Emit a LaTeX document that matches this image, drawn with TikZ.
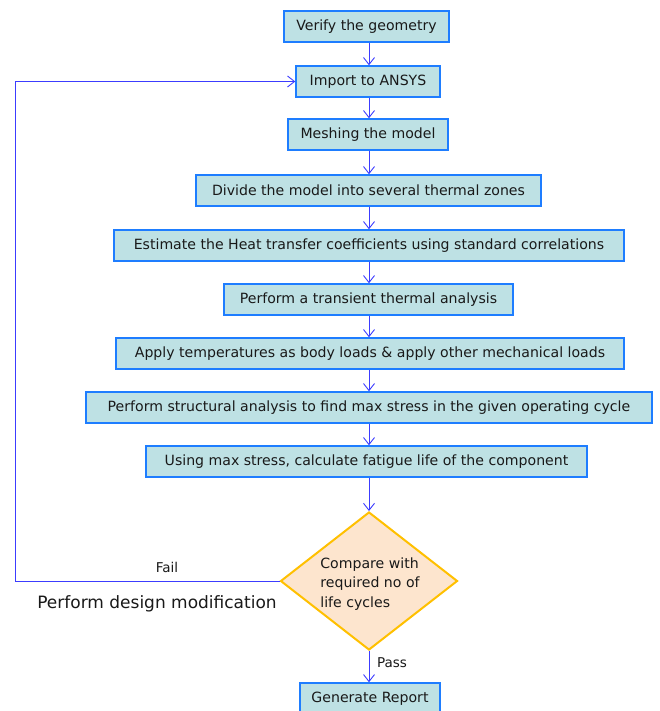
\documentclass[tikz,border=0pt]{standalone}
\usepackage{fontspec}
\setmainfont{DejaVu Sans}
\usetikzlibrary{shapes.geometric,arrows.meta}
\definecolor{boxfill}{RGB}{190,225,228}
\definecolor{boxline}{RGB}{30,125,255}
\definecolor{linecol}{RGB}{60,60,255}
\definecolor{diafill}{RGB}{253,229,206}
\definecolor{dialine}{RGB}{255,192,0}
\definecolor{txt}{RGB}{25,25,25}
\tikzset{
  box/.style={draw=boxline, line width=1.5pt, fill=boxfill, minimum height=31pt,
    inner sep=0pt, text=txt, font=\fontsize{14.1}{16}\selectfont},
  conn/.style={draw=linecol, line width=0.9pt, -{Straight Barb[length=7pt,width=11pt,line width=0.9pt]}},
  lbl/.style={text=txt, inner sep=0pt, font=\fontsize{13.5}{15}\selectfont}
}
\begin{document}
\begin{tikzpicture}[x=1pt,y=-1pt]
\useasboundingbox[fill=white] (0,0) rectangle (659,711);
\node[box, minimum width=165pt] (b1) at (366.5,26.5) {Verify the geometry};
\node[box, minimum width=144pt] (b2) at (368,81.5) {Import to ANSYS};
\node[box, minimum width=160pt] (b3) at (368,134.5) {Meshing the model};
\node[box, minimum width=345pt] (b4) at (368.5,190.5) {Divide the model into several thermal zones};
\node[box, minimum width=510pt] (b5) at (369,245.5) {Estimate the Heat transfer coefficients using standard correlations};
\node[box, minimum width=289pt] (b6) at (368.5,299.5) {Perform a transient thermal analysis};
\node[box, minimum width=508pt] (b7) at (370,353.5) {Apply temperatures as body loads \& apply other mechanical loads};
\node[box, minimum width=566pt] (b8) at (369,407.5) {Perform structural analysis to find max stress in the given operating cycle};
\node[box, minimum width=441pt] (b9) at (366.5,461.5) {Using max stress, calculate fatigue life of the component};
\node[draw=dialine, line width=2pt, fill=diafill, diamond, minimum width=177pt, minimum height=138pt, inner sep=0pt] (dia) at (369,581) {};
\node[lbl, align=left, font=\fontsize{14.1}{19.5}\selectfont] (diat) at (370,584) {Compare with\\required no of\\life cycles};
\node[box, minimum width=140pt] (b10) at (370,698.5) {Generate Report};
\coordinate (fb) at (15,581);
\node[lbl] (fail) at (167,567) {Fail};
\node[lbl] (pass) at (392,663) {Pass};
\node[lbl, font=\fontsize{17}{20}\selectfont] (pdm) at (157,604) {Perform design modification};
\foreach \a/\b in {b1/b2,b2/b3,b3/b4,b4/b5,b5/b6,b6/b7,b7/b8,b8/b9}
  \draw[conn] (\a.south -| 369,0) -- (\b.north -| 369,0);
\draw[conn] (b9.south -| 369,0) -- (dia.north);
\draw[conn] (dia.south) -- (b10.north -| dia.south);
\draw[conn] (dia.west) -- (fb) |- (b2.west);
\end{tikzpicture}
\end{document}
